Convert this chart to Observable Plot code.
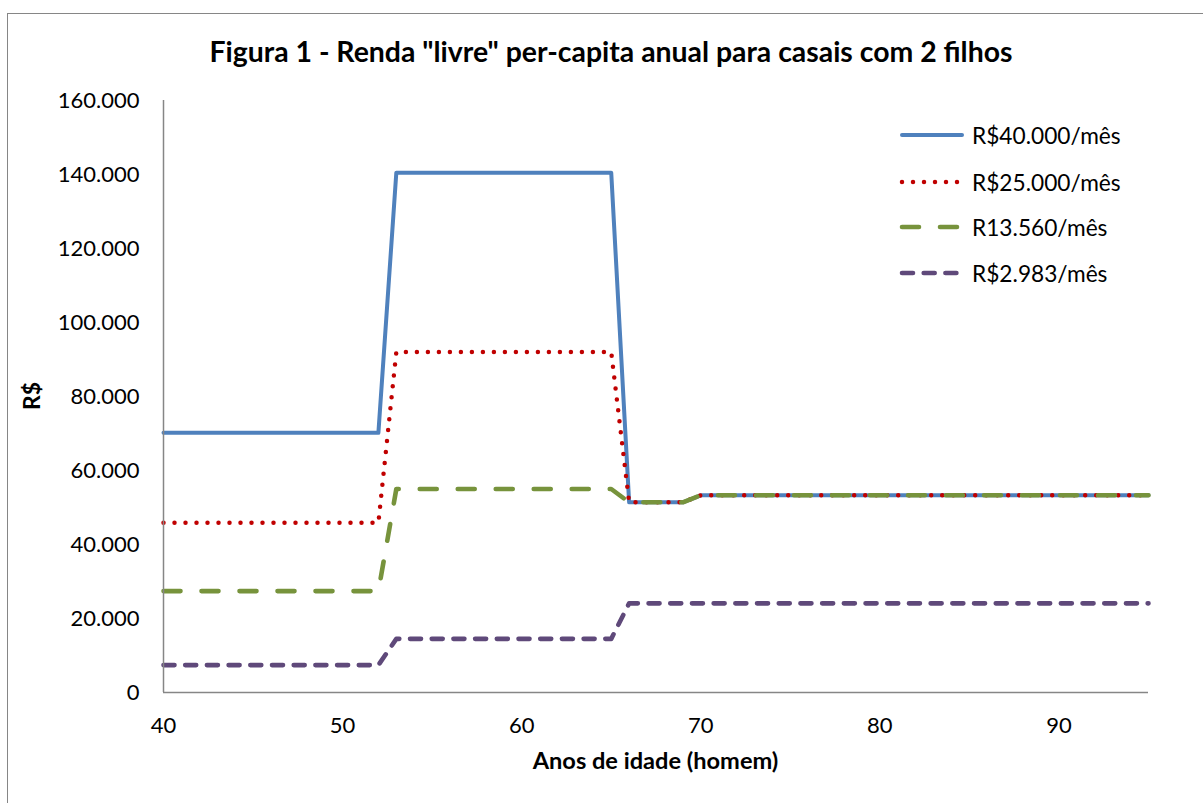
<!DOCTYPE html>
<html>
<head>
<meta charset="utf-8">
<script src="https://cdn.jsdelivr.net/npm/d3@7"></script>
<script src="https://cdn.jsdelivr.net/npm/@observablehq/plot@0.6"></script>
<style>
  html, body { margin: 0; padding: 0; background: #fff; }
  #wrap { position: relative; width: 1203px; height: 803px; overflow: hidden; font-family: Lato, "Open Sans", sans-serif; color: #000; }
  #frame { position: absolute; left: 7px; top: 13px; width: 1400px; height: 1000px; border-left: 1.5px solid #868686; border-top: 1.5px solid #868686; }
  #chart { position: absolute; left: 0; top: 0; }
  .title { position: absolute; left: 0; width: 1222px; top: 34px; text-align: center; font-weight: bold; font-size: 28.4px; white-space: nowrap; }
  .xlabel { position: absolute; left: 0; width: 1311px; top: 746px; text-align: center; font-weight: bold; font-size: 23.6px; white-space: nowrap; }
  .ylabel { position: absolute; left: 31px; top: 396px; transform: translate(-50%, -50%) rotate(-90deg); font-weight: bold; font-size: 23px; white-space: nowrap; }
  .leg { position: absolute; left: 896px; height: 30px; display: flex; align-items: center; font-size: 22.7px; white-space: nowrap; }
  .leg svg { margin-right: 8px; }
</style>
</head>
<body>
<div id="wrap">
  <div id="frame"></div>
  <div id="chart"></div>
  <div class="title">Figura 1 - Renda "livre" per-capita anual para casais com 2 filhos</div>
  <div class="xlabel">Anos de idade (homem)</div>
  <div class="ylabel">R$</div>
  <div id="legend"></div>
</div>
<script>
// Breakpoint ages (lines are straight between them)
const ages = [40, 52, 53, 65, 66, 69, 70, 95];
const renda40000 = [70200, 70200, 140500, 140500, 51400, 51400, 53300, 53300];
const renda25000 = [45900, 45900, 92000, 92000, 51400, 51400, 53300, 53300];
const renda13560 = [27400, 27400, 55000, 55000, 51400, 51400, 53300, 53300];
const renda2983  = [7400, 7400, 14500, 14500, 24100, 24100, 24100, 24100];

const seriesNames = ["R$40.000/mês", "R$25.000/mês", "R13.560/mês", "R$2.983/mês"];
const seriesValues = [renda40000, renda25000, renda13560, renda2983];
const seriesStyle = [
  {stroke: "#4F81BD", strokeWidth: 4, dash: null},
  {stroke: "#C00000", strokeWidth: 4.5, dash: "0,11"},
  {stroke: "#77933C", strokeWidth: 4.6, dash: "17,21"},
  {stroke: "#5F497A", strokeWidth: 4.6, dash: "11,10.7"}
];

const xTicks = [40, 50, 60, 70, 80, 90];
const yTicks = [0, 20000, 40000, 60000, 80000, 100000, 120000, 140000, 160000];
const fmt = d => d === 0 ? "0" : d3.format(",")(d).replace(/,/g, ".");

const lineMarks = seriesValues.map((vals, i) => {
  const rows = ages.map((a, j) => ({age: a, value: vals[j]}));
  const s = seriesStyle[i];
  return Plot.line(rows, {
    x: "age", y: "value", stroke: s.stroke, strokeWidth: s.strokeWidth,
    strokeDasharray: s.dash, strokeLinecap: "round", strokeLinejoin: "round"
  });
});

const chart = Plot.plot({
  width: 1203, height: 803,
  marginLeft: 163, marginRight: 55, marginTop: 100, marginBottom: 111,
  style: {fontFamily: "Lato, 'Open Sans', sans-serif", fontSize: "22px", color: "#000", background: "transparent"},
  x: {domain: [40, 95]},
  y: {domain: [0, 160000]},
  marks: [
    Plot.axisX({ticks: xTicks, tickSize: 0, tickPadding: 25, tickFormat: d => String(d), label: null, fontSize: 22}),
    Plot.axisY({ticks: yTicks, tickSize: 0, tickPadding: 24, tickFormat: fmt, label: null, fontSize: 22}),
    ...lineMarks,
    Plot.ruleX([40], {stroke: "#868686", strokeWidth: 1.5}),
    Plot.ruleY([0], {stroke: "#868686", strokeWidth: 1.5})
  ]
});
document.getElementById("chart").appendChild(chart);

// Legend
const legTops = [120, 167, 212, 258];
const legend = document.getElementById("legend");
seriesNames.forEach((name, i) => {
  const s = seriesStyle[i];
  const row = document.createElement("div");
  row.className = "leg";
  row.style.top = legTops[i] + "px";
  row.innerHTML = `<svg width="68" height="30"><line x1="6" y1="15" x2="66" y2="15" stroke="${s.stroke}" stroke-width="${s.strokeWidth}" stroke-linecap="round" ${s.dash ? `stroke-dasharray="${s.dash}"` : ""}/></svg><span>${name}</span>`;
  legend.appendChild(row);
});
</script>
</body>
</html>
